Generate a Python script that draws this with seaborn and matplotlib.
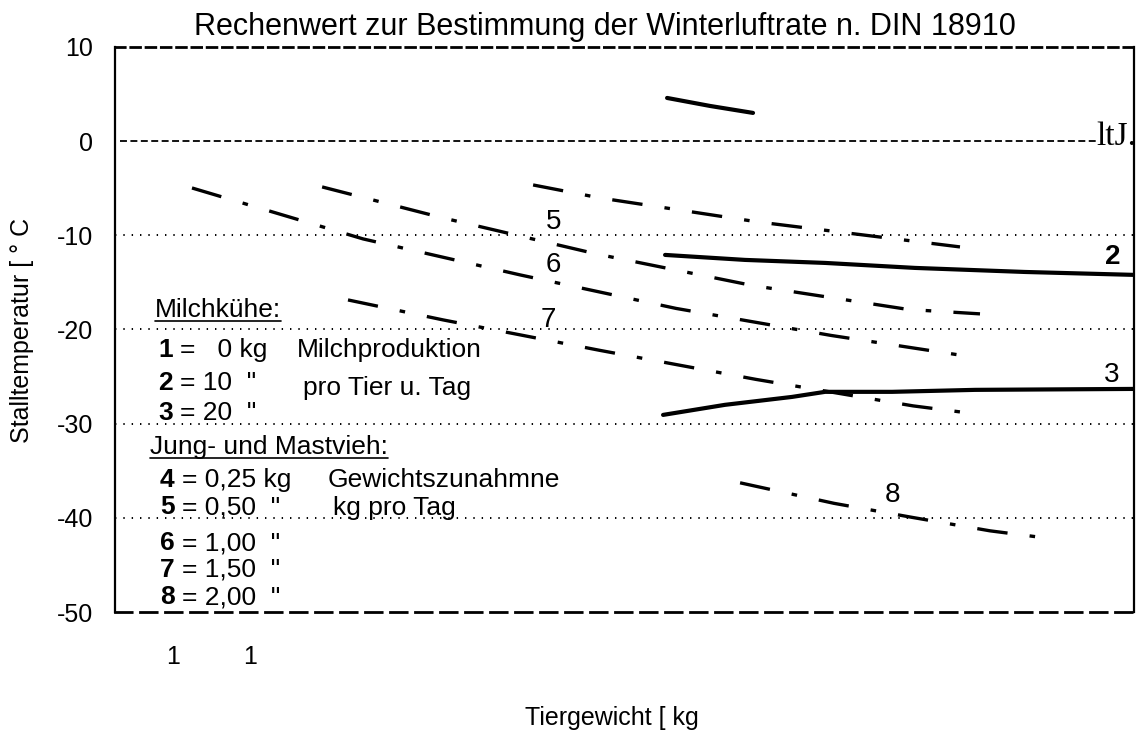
import matplotlib
matplotlib.use("Agg")
import matplotlib.pyplot as plt
import seaborn as sns
import pandas as pd
from matplotlib.lines import Line2D

# ---------------- data ----------------
L1_KG = [420.8, 448.7, 476.6]
L1_C = [4.59, 3.74, 3.00]
L2_KG = [419.5, 471.4, 523.4, 581.8, 653.2, 724.0]
L2_C = [-12.08, -12.61, -12.93, -13.46, -13.89, -14.20]
L3_KG = [418.2, 458.4, 501.9, 523.4, 566.9, 620.8, 724.0]
L3_C = [-29.07, -28.00, -27.16, -26.62, -26.62, -26.41, -26.31]
L4_KG = [333.8, 377.3, 479.9, 611.0]
L4_C = [-4.65, -6.03, -8.58, -11.23]
L5_KG = [196.8, 274.0, 374.7, 476.0, 577.3, 624.0]
L5_C = [-4.86, -8.10, -11.97, -15.32, -17.87, -18.34]
L6_KG = [112.3, 223.4, 325.3, 426.6, 527.3, 622.7]
L6_C = [-4.97, -10.38, -14.20, -17.76, -20.63, -23.01]
L7_KG = [213.6, 275.3, 377.3, 478.6, 580.5, 611.0]
L7_C = [-16.86, -18.98, -22.22, -25.30, -28.11, -28.75]
L8_KG = [468.2, 529.2, 579.9, 630.5, 661.0]
L8_C = [-36.28, -38.46, -39.95, -41.38, -42.02]

SOLID_LINES = [(L1_KG, L1_C), (L2_KG, L2_C), (L3_KG, L3_C)]
DASHED_LINES = [(L4_KG, L4_C), (L5_KG, L5_C), (L6_KG, L6_C),
                (L7_KG, L7_C), (L8_KG, L8_C)]

# curve labels: text, kg, degC, bold
CURVE_LABELS = [("5", 346.8, -8.6, False), ("6", 346.8, -13.1, False),
                ("7", 343.5, -19.0, False), ("8", 566.9, -37.6, False),
                ("2", 710.4, -12.3, True), ("3", 709.7, -24.8, False)]

Y_TICKS = [10, 0, -10, -20, -30, -40, -50]
Y_TICK_LABELS = ["10", "0", "-10", "-20", "-30", "-40", "-50"]
X_TICKS = [100, 150]
X_TICK_LABELS = ["1", "1"]
GRID_LEVELS = [-10, -20, -30, -40]

TITLE = "Rechenwert zur Bestimmung der Winterluftrate n. DIN 18910"
X_LABEL = "Tiergewicht [ kg"
Y_LABEL = "Stalltemperatur [ ° C"

HEAD_MILK = "Milchkühe:"
MILK_ROWS = [("1", "=   0 kg"), ("2", "= 10  \""), ("3", "= 20  \"")]
MILK_NOTES = ["Milchproduktion", "pro Tier u. Tag"]
HEAD_YOUNG = "Jung- und Mastvieh:"
YOUNG_ROWS = [("4", "= 0,25 kg"), ("5", "= 0,50  \""), ("6", "= 1,00  \""),
              ("7", "= 1,50  \""), ("8", "= 2,00  \"")]
YOUNG_NOTES = ["Gewichtszunahmne", "kg pro Tag"]

# ---------------- style ----------------
sns.set_theme(style="white")
plt.rcParams["font.family"] = ["Liberation Sans", "DejaVu Sans"]
plt.rcParams["lines.scale_dashes"] = False
plt.rcParams["text.color"] = "black"
plt.rcParams["axes.labelcolor"] = "black"
plt.rcParams["xtick.color"] = "black"
plt.rcParams["ytick.color"] = "black"

W, H = 1140, 736
fig = plt.figure(figsize=(W / 100, H / 100), dpi=100)
AX_L, AX_R, AX_T, AX_B = 115, 1134, 47, 612
ax = fig.add_axes([AX_L / W, 1 - AX_B / H, (AX_R - AX_L) / W, (AX_B - AX_T) / H])


def frac(px, py):
    return (px - AX_L) / (AX_R - AX_L), (AX_B - py) / (AX_B - AX_T)


# reference lines
for lvl in GRID_LEVELS:
    ax.axhline(lvl, color="black", lw=1.4, ls=(0, (1, 5)), zorder=1)
ax.axhline(0, xmin=0.005, xmax=0.965, color="black", lw=1.3, ls=(0, (5, 2.5)), zorder=1)

# data lines
for xs, ys in SOLID_LINES:
    df = pd.DataFrame({"kg": xs, "c": ys})
    sns.lineplot(data=df, x="kg", y="c", ax=ax, color="black", lw=3.0, sort=False,
                 estimator=None, legend=False)
for xs, ys in DASHED_LINES:
    df = pd.DataFrame({"kg": xs, "c": ys})
    sns.lineplot(data=df, x="kg", y="c", ax=ax, color="black", lw=2.4, sort=False,
                 estimator=None, legend=False)
    ax.lines[-1].set_dashes((22, 16, 4, 16))

for txt, kx, cy, bold in CURVE_LABELS:
    ax.text(kx, cy, txt, fontsize=20, ha="center", va="center",
            fontweight="bold" if bold else "normal", color="black", zorder=5)

fx, fy = frac(1136, 137)
ax.text(fx, fy, "ltJ.", transform=ax.transAxes, ha="right", va="center",
        fontsize=24, family="Liberation Serif")

# axes
ax.set_xlim(62.3, 724.0)
ax.set_ylim(-50, 10)
ax.set_yticks(Y_TICKS)
ax.set_yticklabels(Y_TICK_LABELS)
ax.set_xticks(X_TICKS)
ax.set_xticklabels(X_TICK_LABELS)
ax.tick_params(axis="y", length=0, pad=16, labelsize=18, labelcolor="black")
ax.tick_params(axis="x", length=0, pad=24, labelsize=18, labelcolor="black")
ax.set_xlabel(X_LABEL, fontsize=18, color="black")
ax.set_ylabel(Y_LABEL, fontsize=18, color="black")
ax.xaxis.set_label_coords(*frac(612, 706))
ax.yaxis.set_label_coords(*frac(34, 330))

for name, sp in ax.spines.items():
    sp.set_color("black")
    sp.set_visible(True)
ax.spines["left"].set_linewidth(1.6)
ax.spines["right"].set_linewidth(1.6)
ax.spines["top"].set_linewidth(2.0)
ax.spines["top"].set_linestyle((0, (7, 4)))
ax.spines["bottom"].set_linewidth(2.0)
ax.spines["bottom"].set_linestyle((0, (12, 6)))

fig.text(605 / W, 1 - 27 / H, TITLE, ha="center", va="center", fontsize=22, color="black")

# annotation block
underlined = []
FS = 19
t = ax.text(*frac(155, 310), HEAD_MILK, transform=ax.transAxes, fontsize=FS, va="center")
underlined.append(t)
for (num, rest), py in zip(MILK_ROWS, [350, 383, 413]):
    ax.text(*frac(158, py), num, transform=ax.transAxes, fontsize=FS, va="center", fontweight="bold")
    ax.text(*frac(180, py), rest, transform=ax.transAxes, fontsize=FS, va="center")
for note, (px, py) in zip(MILK_NOTES, [(297, 350), (303, 388)]):
    ax.text(*frac(px, py), note, transform=ax.transAxes, fontsize=FS, va="center")

t = ax.text(*frac(150, 447), HEAD_YOUNG, transform=ax.transAxes, fontsize=FS, va="center")
underlined.append(t)
for (num, rest), py in zip(YOUNG_ROWS, [480, 507, 543, 570, 597]):
    ax.text(*frac(160, py), num, transform=ax.transAxes, fontsize=FS, va="center", fontweight="bold")
    ax.text(*frac(182, py), rest, transform=ax.transAxes, fontsize=FS, va="center")
for note, (px, py) in zip(YOUNG_NOTES, [(328, 480), (333, 508)]):
    ax.text(*frac(px, py), note, transform=ax.transAxes, fontsize=FS, va="center")

fig.canvas.draw()
for t in underlined:
    bb = t.get_window_extent()
    fig.add_artist(Line2D([bb.x0, bb.x1], [bb.y0 + 1, bb.y0 + 1], transform=None,
                          color="black", lw=1.2))

fig.savefig("out.png", dpi=100)
